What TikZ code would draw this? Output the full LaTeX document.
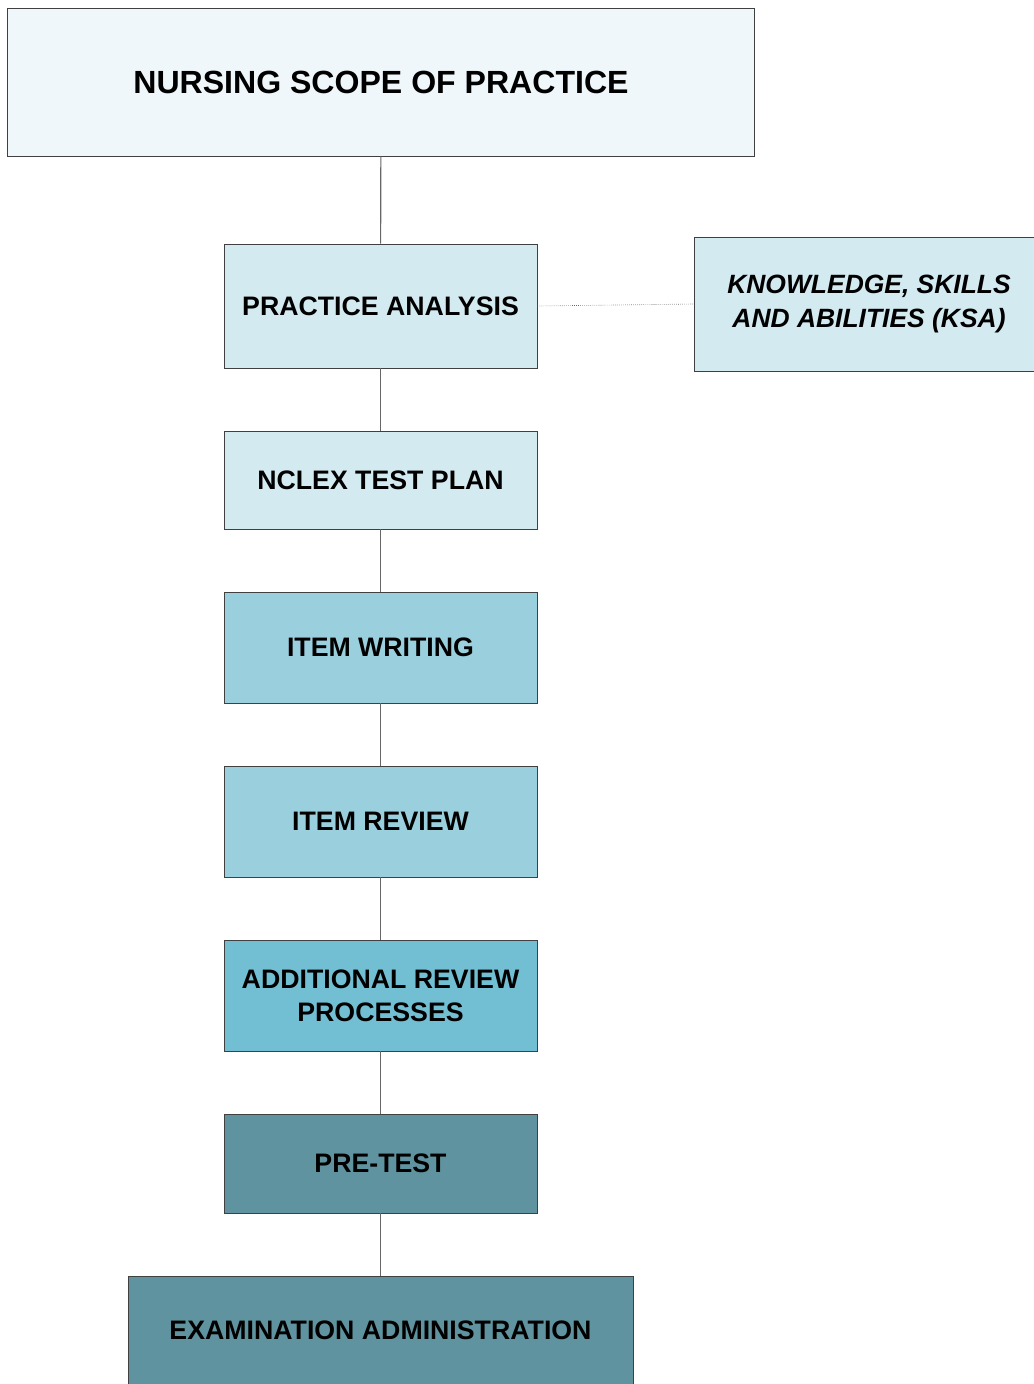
\documentclass[tikz,border=0pt]{standalone}
\usepackage{fontspec}
\setmainfont{Liberation Sans}
\definecolor{scopefill}{HTML}{EFF7FA}
\definecolor{lightfill}{HTML}{D3EAF0}
\definecolor{midfill}{HTML}{9AD0DE}
\definecolor{deepfill}{HTML}{72BFD4}
\definecolor{darkfill}{HTML}{5F939F}
\tikzset{
    stage/.style={draw=black!75, line width=0.6pt, align=center, inner sep=0pt,
      font=\fontsize{19}{23.5}\selectfont\bfseries,
      minimum width=7.825cm, minimum height=#1},
    stage/.default=2.775cm,
    link/.style={draw=black!60, line width=0.8pt},
    side link/.style={draw=black!60, line width=0.45pt, densely dotted},
  }
\begin{document}
\begin{tikzpicture}[x=0.025cm,y=0.025cm]
  %page frame in pixels of the reference
  \useasboundingbox (0,0) rectangle (1034,-1384);
  \node[stage, fill=scopefill, minimum width=18.65cm, minimum height=3.7cm,
        font=\fontsize{22.8}{28}\selectfont\bfseries] (scope) at (381,-82) {NURSING SCOPE OF PRACTICE};
  \node[stage=3.1cm, fill=lightfill] (analysis) at (380.5,-306) {PRACTICE ANALYSIS};
  \node[stage=3.35cm, fill=lightfill, minimum width=8.75cm,
        font=\fontsize{18.8}{23.5}\selectfont\bfseries\itshape] (ksa) at (869,-304) {KNOWLEDGE, SKILLS\\AND ABILITIES (KSA)};
  \node[stage=2.45cm, fill=lightfill] (plan) at (380.5,-480) {NCLEX TEST PLAN};
  \node[stage, fill=midfill] (writing) at (380.5,-647.5) {ITEM WRITING};
  \node[stage, fill=midfill] (review) at (380.5,-821.5) {ITEM REVIEW};
  \node[stage, fill=deepfill] (additional) at (380.5,-995.5) {ADDITIONAL REVIEW\\PROCESSES};
  \node[stage=2.475cm, fill=darkfill] (pretest) at (380.5,-1163.5) {PRE-TEST};
  \node[stage=2.7cm, fill=darkfill, minimum width=12.625cm] (exam) at (380.5,-1330) {EXAMINATION ADMINISTRATION};

  \draw[link] (scope) -- (analysis);
  \draw[link] (analysis) -- (plan);
  \draw[link] (plan) -- (writing);
  \draw[link] (writing) -- (review);
  \draw[link] (review) -- (additional);
  \draw[link] (additional) -- (pretest);
  \draw[link] (pretest) -- (exam);
  \draw[side link] (analysis.east) -- (ksa.west);
\end{tikzpicture}
\end{document}
